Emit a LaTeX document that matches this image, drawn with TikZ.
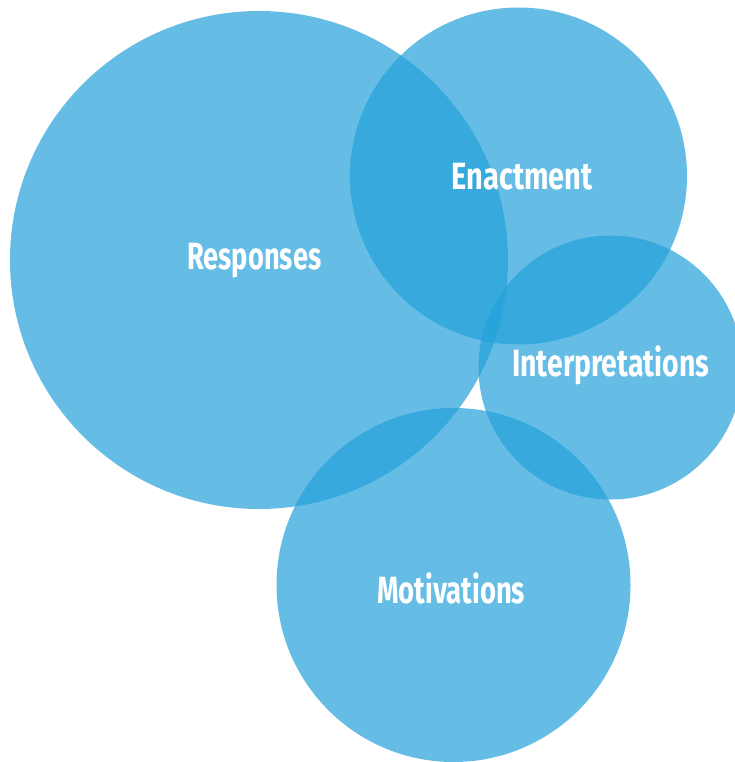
\documentclass[tikz,border=0pt]{standalone}
\usepackage{fontspec}
\usepackage{graphicx}
\newfontfamily\labfont{Fira Sans}
\definecolor{bubblue}{RGB}{35,161,218}
\newcommand{\lbl}[2]{\resizebox{#1pt}{\height}{\labfont\bfseries\fontsize{38}{40}\selectfont #2}}
\tikzset{
  bubble/.style={circle, fill=bubblue, fill opacity=0.7, draw=none, inner sep=0pt},
  lab/.style={anchor=base west, inner sep=0pt, text=white, text opacity=1}
}
\begin{document}
\begin{tikzpicture}[x=1pt,y=-1pt]
\useasboundingbox (0,0) rectangle (734,762);
\node[bubble, minimum size=498pt] (resp) at (259,260) {};
\node[bubble, minimum size=337pt] (enact) at (518.5,176) {};
\node[bubble, minimum size=264pt] (interp) at (610.5,367.5) {};
\node[bubble, minimum size=354pt] (motiv) at (453.5,585) {};
\node[lab] (tresp) at (187,269.5) {\lbl{134}{Responses}};
\node[lab] (tenact) at (451.5,189.5) {\lbl{141}{Enactment}};
\node[lab] (tinterp) at (512,376) {\lbl{197}{Interpretations}};
\node[lab] (tmotiv) at (377,603.5) {\lbl{148}{Motivations}};
\end{tikzpicture}
\end{document}
